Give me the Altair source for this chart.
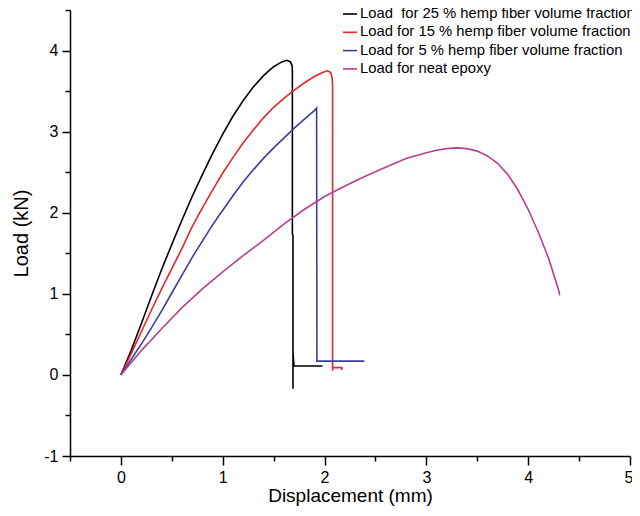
import altair as alt
import pandas as pd

series_names = [
    "Load\u00a0 for 25 % hemp fiber volume fraction",
    "Load for 15 % hemp fiber volume fraction",
    "Load for 5 % hemp fiber volume fraction",
    "Load for neat epoxy",
]
series_colors = ["#000000", "#e8262a", "#3c3c9c", "#b5408f"]

disp_25 = [0, 0.1, 0.2, 0.3, 0.4, 0.5, 0.6, 0.7, 0.8, 0.9, 1.0, 1.1, 1.2, 1.3, 1.4, 1.5,
           1.58, 1.63, 1.665, 1.682, 1.684, 1.684, 1.69, 1.69, 1.69, 1.70, 1.98]
load_25 = [0, 0.30, 0.63, 0.97, 1.30, 1.61, 1.91, 2.20, 2.47, 2.73, 2.97, 3.19, 3.38, 3.55, 3.69, 3.80,
           3.86, 3.88, 3.86, 3.81, 3.74, 1.74, 1.72, -0.17, 0.28, 0.11, 0.11]

disp_15 = [0, 0.1, 0.2, 0.3, 0.4, 0.5, 0.6, 0.7, 0.8, 0.9, 1.0, 1.1, 1.2, 1.3, 1.4, 1.5,
           1.6, 1.7, 1.8, 1.9, 1.98, 2.03, 2.06, 2.075, 2.079, 2.079, 2.079, 2.17, 2.17]
load_15 = [0, 0.26, 0.53, 0.80, 1.06, 1.31, 1.56, 1.83, 2.06, 2.28, 2.49, 2.68, 2.86, 3.02, 3.17, 3.30,
           3.41, 3.51, 3.60, 3.68, 3.73, 3.75, 3.73, 3.66, 3.55, 0.05, 0.09, 0.09, 0.06]

disp_5 = [0, 0.1, 0.2, 0.3, 0.4, 0.5, 0.6, 0.7, 0.8, 0.9, 1.0, 1.1, 1.2, 1.3, 1.4, 1.5,
          1.6, 1.7, 1.8, 1.9, 1.922, 1.925, 2.39]
load_5 = [0, 0.19, 0.38, 0.58, 0.79, 1.01, 1.23, 1.45, 1.65, 1.85, 2.03, 2.21, 2.38, 2.53, 2.67, 2.80,
          2.92, 3.04, 3.15, 3.26, 3.29, 0.17, 0.17]

disp_neat = [0, 0.2, 0.4, 0.6, 0.8, 1.0, 1.2, 1.4, 1.6, 1.8, 2.0, 2.2, 2.4, 2.6, 2.8, 3.0,
             3.1, 3.2, 3.3, 3.4, 3.5, 3.6, 3.7, 3.8, 3.9, 4.0, 4.1, 4.2, 4.3, 4.31]
load_neat = [0, 0.30, 0.57, 0.83, 1.06, 1.27, 1.47, 1.66, 1.86, 2.04, 2.20, 2.33, 2.45, 2.56, 2.67, 2.74,
             2.77, 2.79, 2.80, 2.79, 2.76, 2.70, 2.61, 2.47, 2.28, 2.04, 1.76, 1.44, 1.04, 0.98]

x_ticks = [-0.5, 0, 0.5, 1, 1.5, 2, 2.5, 3, 3.5, 4, 4.5, 5]
y_ticks = [-1, -0.5, 0, 0.5, 1, 1.5, 2, 2.5, 3, 3.5, 4, 4.5]

rows = []
for name, xs, ys in zip(series_names,
                        [disp_25, disp_15, disp_5, disp_neat],
                        [load_25, load_15, load_5, load_neat]):
    for i, (xv, yv) in enumerate(zip(xs, ys)):
        rows.append({"series": name, "disp": xv, "load": yv, "idx": i})
df = pd.DataFrame(rows)

FONT = "Liberation Sans"
label_expr = "datum.value % 1 === 0 ? '' + datum.value : ''"

chart = alt.Chart(df).mark_line(strokeWidth=1.6).encode(
    x=alt.X("disp:Q",
            scale=alt.Scale(domain=[-0.5, 5], nice=False, zero=False),
            axis=alt.Axis(title="Displacement (mm)", values=x_ticks, labelExpr=label_expr,
                          grid=False, domainColor="black", domainWidth=1.5,
                          tickColor="black", tickWidth=1.5,
                          tickSize={"condition": {"test": "datum.value % 1 === 0", "value": 9}, "value": 5},
                          labelFont=FONT, labelFontSize=16, labelColor="black",
                          labelPadding=4, labelFlush=True, labelFlushOffset=3, labelOverlap=False,
                          titleFont=FONT, titleFontSize=19, titleFontWeight="normal",
                          titleColor="black", titlePadding=1)),
    y=alt.Y("load:Q",
            scale=alt.Scale(domain=[-1, 4.5], nice=False, zero=False),
            axis=alt.Axis(title="Load (kN)", values=y_ticks, labelExpr=label_expr,
                          grid=False, domainColor="black", domainWidth=1.5,
                          tickColor="black", tickWidth=1.5,
                          tickSize={"condition": {"test": "datum.value % 1 === 0", "value": 8}, "value": 5},
                          labelFont=FONT, labelFontSize=16, labelColor="black",
                          labelPadding=4, labelFlush=False, labelOverlap=False,
                          titleFont=FONT, titleFontSize=20, titleFontWeight="normal",
                          titleColor="black", titlePadding=12)),
    color=alt.Color("series:N",
                    scale=alt.Scale(domain=series_names, range=series_colors),
                    legend=alt.Legend(title=None, orient="none", legendX=272, legendY=-4,
                                      symbolType="stroke", symbolSize=196, symbolStrokeWidth=1.6,
                                      labelFont=FONT, labelFontSize=14.8, labelColor="black",
                                      labelLimit=500, labelOffset=2, rowPadding=3.3, padding=0)),
    order="idx:Q",
).properties(
    width=560, height=446,
    autosize=alt.AutoSizeParams(type="none"),
    padding={"left": 62, "top": 2, "right": 2, "bottom": 52},
).configure_view(stroke=None)

chart.save("out.html", embed_options={"renderer": "svg", "actions": False})
